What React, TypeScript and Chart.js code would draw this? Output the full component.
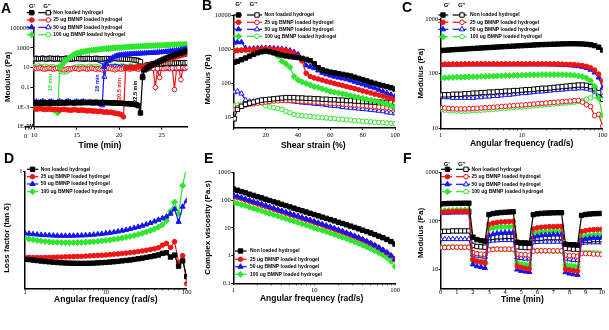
import React, { useEffect, useRef } from 'react';
import { Chart, registerables } from 'chart.js';

Chart.register(...registerables);

const W = 609;
const H = 330;

const GROUPS = ['Non loaded hydrogel', '25 ug BMNP loaded hydrogel', '50 ug BMNP loaded hydrogel', '100 ug BMNP loaded hydrogel'];
const COLORS = ['#000000', '#f01414', '#1414f0', '#2ee62e'];

// ---------- Panel A : time sweep ----------
const timeA = [10, 10.25, 10.5, 10.75, 11, 11.25, 11.5, 11.75, 12, 12.25, 12.5, 12.75, 13, 13.25, 13.5, 13.75, 14, 14.25, 14.5, 14.75, 15, 15.25, 15.5, 15.75, 16, 16.25, 16.5, 16.75, 17, 17.25, 17.5, 17.75, 18, 18.25, 18.5, 18.75, 19, 19.25, 19.5, 19.75, 20, 20.25, 20.5, 20.75, 21, 21.25, 21.5, 21.75, 22, 22.25, 22.5, 22.75, 23, 23.25, 23.5, 23.75, 24, 24.25, 24.5, 24.75, 25, 25.25, 25.5, 25.75, 26, 26.25, 26.5, 26.75, 27, 27.25, 27.5, 27.75, 28];
const aNonGp = [0.0026, 0.0025, 0.0027, 0.0026, 0.0025, 0.0026, 0.0027, 0.0026, 0.0025, 0.0026, 0.0027, 0.0026, 0.0025, 0.0026, 0.0027, 0.0026, 0.0027, 0.0028, 0.0027, 0.0026, 0.0027, 0.0028, 0.0027, 0.0028, 0.0029, 0.0028, 0.0029, 0.0028, 0.0029, 0.003, 0.0029, 0.0028, 0.0029, 0.0028, 0.0028, 0.0027, 0.0027, 0.0026, 0.0026, 0.0025, 0.0024, 0.0024, 0.0023, 0.0022, 0.0022, 0.0021, 0.002, 0.0019, 0.0017, 0.0014, 0.00025, 1.2, 6, 9, 12, 16, 21, 27, 35, 45, 57, 72, 90, 110, 135, 160, 190, 225, 265, 310, 365, 430, 500];
const aNonGpp = [80, 85, 78, 82, 88, 80, 76, 84, 90, 82, 78, 85, 80, 76, 82, 88, 84, 80, 78, 85, 90, 84, 80, 78, 82, 86, 80, 76, 82, 88, 84, 80, 76, 82, 85, 80, 78, 84, 88, 82, 78, 80, 76, 74, 72, 70, 66, 62, 58, 52, 40, 1.0, 12, 18, 20, 22, 24, 22, 25, 26, 24, 27, 28, 26, 28, 30, 28, 30, 31, 29, 32, 30, 32];
const a25Gp = [0.0007, 0.0006, 0.00065, 0.0007, 0.0006, 0.00055, 0.0006, 0.00065, 0.0006, 0.00055, 0.0006, 0.00055, 0.0005, 0.00055, 0.0006, 0.00055, 0.0005, 0.00048, 0.0005, 0.00055, 0.0005, 0.00045, 0.0005, 0.00048, 0.00045, 0.0004, 0.00045, 0.0004, 0.00038, 0.0004, 0.00035, 0.00038, 0.00033, 0.0003, 0.00032, 0.00028, 0.0003, 0.00026, 0.00024, 0.00022, 0.0002, 0.00016, 0.0001, 9, 10, 10, 11, 10, 11, 12, 12, 13, 14, 15, 17, 19, 22, 26, 31, 37, 44, 52, 61, 71, 83, 97, 113, 131, 150, 172, 196, 222, 250];
const a25Gpp = [9, 8, 9, 10, 8, 7, 8, 9, 8, 7, 8, 9, 8, 7, 6, 7, 8, 7, 8, 9, 8, 7, 8, 9, 8, 7, 8, 9, 8, 7, 8, 7, 6, 7, 8, 9, 8, 7, 6, 7, 8, 7, 8, 9, 8, 7, 8, 9, 8, 7, 8, 9, 8, 7, 8, 9, 8, 0.1, 8, 1, 9, 8, 9, 10, 8, 9, 0.06, 9, 10, 0.6, 10, 9, 11];
const a50Gp = [0.003, 0.0035, 0.0028, 0.0032, 0.0038, 0.003, 0.0026, 0.0033, 0.0036, 0.0029, 0.0025, 0.0032, 0.0037, 0.003, 0.0027, 0.0034, 0.0038, 0.0031, 0.0026, 0.0033, 0.0036, 0.0029, 0.0032, 0.0037, 0.003, 0.0026, 0.0033, 0.0028, 0.0022, 0.0027, 0.0024, 0.002, 0.0015, 12, 25, 50, 80, 110, 140, 165, 185, 200, 210, 220, 230, 238, 245, 252, 260, 267, 275, 282, 290, 298, 306, 315, 325, 336, 348, 362, 378, 396, 416, 440, 466, 495, 528, 565, 605, 650, 700, 755, 815];
const a50Gpp = [75, 85, 70, 80, 90, 72, 78, 88, 74, 68, 80, 86, 72, 66, 76, 84, 70, 64, 74, 82, 70, 76, 86, 72, 66, 78, 84, 70, 64, 72, 60, 50, 40, 1.2, 8, 10, 12, 11, 13, 12, 10, 11, 12, 10, 9, 11, 10, 9, 10, 11, 9, 8, 9, 10, 8, 9, 10, 8, 7, 9, 8, 7, 9, 8, 7, 8, 9, 7, 8, 9, 7, 8, 9];
const a100Gp = [0.0009, 0.00085, 0.0008, 0.0008, 0.00075, 0.0007, 0.0007, 0.00065, 0.0006, 0.00055, 0.00045, 0.00025, 12, 20, 35, 55, 85, 120, 170, 230, 290, 335, 385, 420, 470, 500, 545, 580, 625, 660, 700, 745, 775, 820, 865, 900, 935, 985, 1020, 1055, 1100, 1140, 1175, 1225, 1260, 1300, 1345, 1380, 1415, 1460, 1500, 1545, 1580, 1615, 1665, 1700, 1735, 1780, 1825, 1860, 1900, 1945, 1975, 2020, 2065, 2100, 2135, 2185, 2220, 2255, 2300, 2345, 2380];
const a100Gpp = [14, 12, 15, 13, 11, 14, 12, 10, 13, 12, 10, 9, 6, 4, 3.5, 4, 5, 7, 9, 10, 12, 11, 13, 12, 10, 12, 14, 12, 11, 13, 12, 10, 12, 14, 13, 11, 12, 14, 13, 11, 13, 15, 14, 12, 13, 15, 14, 12, 14, 16, 15, 13, 15, 16, 14, 15, 17, 16, 14, 16, 18, 17, 15, 17, 18, 16, 18, 19, 17, 18, 20, 19, 20];
const gelNotes = [
  { text: '13 min', x: 50, y: 82.5, color: '#2ee62e' },
  { text: '18 min', x: 97, y: 83, color: '#1414f0' },
  { text: '20.5 min', x: 119, y: 89, color: '#f01414' },
  { text: '22.5 min', x: 135, y: 91.7, color: '#000000' },
];

// ---------- Panel B : strain sweep ----------
const strainB = [0.5, 2.5, 5, 7.5, 10, 12.5, 15, 17.5, 20, 22.5, 25, 27.5, 30, 32.5, 35, 37.5, 40, 42.5, 45, 47.5, 50, 52.5, 55, 57.5, 60, 62.5, 65, 67.5, 70, 72.5, 75, 77.5, 80, 82.5, 85, 87.5, 90, 92.5, 95, 97.5, 100];
const bNonGp = [420, 450, 500, 560, 640, 720, 800, 860, 900, 860, 800, 740, 690, 650, 620, 600, 580, 550, 510, 470, 380, 290, 250, 230, 215, 205, 195, 185, 175, 165, 152, 140, 128, 118, 108, 100, 92, 86, 80, 74, 68];
const b25Gp = [900, 930, 950, 970, 990, 1010, 1030, 1050, 1050, 1040, 1020, 1000, 990, 930, 850, 760, 620, 460, 200, 160, 145, 135, 125, 116, 108, 100, 93, 87, 81, 75, 70, 65, 60, 56, 52, 48, 45, 42, 39, 36, 33];
const b50Gp = [1600, 1650, 1650, 1100, 1050, 1080, 1100, 1120, 1120, 1110, 1090, 1060, 1030, 990, 930, 850, 720, 500, 340, 310, 280, 240, 205, 185, 170, 158, 148, 140, 132, 122, 112, 102, 94, 86, 79, 72, 65, 58, 52, 46, 41];
const b100Gp = [950, 960, 970, 975, 980, 985, 990, 985, 930, 870, 780, 650, 450, 380, 300, 160, 125, 110, 100, 90, 80, 75, 69, 63, 58, 55, 52, 49, 46, 43, 40, 38, 36, 34, 32, 30, 28, 26, 24, 22, 20];
const bNonGpp = [9, 17, 21, 24, 26, 28, 30, 32, 33, 34, 35, 36, 37, 38, 38, 38, 37, 37, 36, 36, 35, 35, 34, 34, 33, 33, 32, 32, 31, 31, 30, 30, 29, 29, 28.5, 28, 28, 27.5, 27.5, 27, 27];
const b25Gpp = [17, 19, 21, 23, 24, 25, 26, 27, 28, 29, 30, 30.5, 31, 31, 31, 31, 30, 29.5, 29, 28.5, 28, 27.5, 27, 26.5, 26, 25.5, 25, 24.5, 24, 23.5, 23, 22.5, 22, 21.5, 21, 20.5, 20, 19.5, 19, 18.5, 18];
const b50Gpp = [55, 58, 50, 32, 29, 29, 30, 31, 31, 31, 31, 31, 31, 30.5, 30, 29, 28, 27, 26.5, 26, 25, 24.5, 24, 23, 22, 21.5, 21, 20, 19.5, 19, 18.5, 18, 17.5, 17, 16.5, 16, 15.5, 15, 14, 13.5, 13];
const b100Gpp = [22, 23, 24, 25, 26, 27, 28, 27, 22, 20, 19, 18, 17, 15, 13.5, 12, 11.5, 11, 10.8, 10.5, 10.2, 10, 9.7, 9.5, 9.2, 9, 8.8, 8.6, 8.4, 8.2, 8, 7.8, 7.6, 7.4, 7.3, 7.1, 7, 6.9, 6.7, 6.6, 6.5];

// ---------- Panels C, D, E : frequency sweep ----------
const freq = [1, 1.122, 1.259, 1.413, 1.585, 1.778, 1.995, 2.239, 2.512, 2.818, 3.162, 3.548, 3.981, 4.467, 5.012, 5.623, 6.31, 7.079, 7.943, 8.913, 10, 11.22, 12.59, 14.13, 15.85, 17.78, 19.95, 22.39, 25.12, 28.18, 31.62, 35.48, 39.81, 44.67, 50.12, 56.23, 63.1, 70.79, 79.43, 89.13, 100];
const cNonGp = [265, 268, 271, 274, 277, 280, 283, 286, 289, 292, 295, 298, 301, 304, 307, 310, 313, 316, 319, 322, 325, 328, 331, 334, 337, 340, 342, 344, 346, 348, 350, 351, 352, 352, 351, 349, 345, 338, 326, 305, 270];
const c25Gp = [148, 148, 148, 149, 149, 149, 150, 150, 150, 150, 151, 150, 150, 151, 150, 150, 151, 150, 150, 151, 150, 150, 151, 150, 150, 151, 150, 150, 150, 150, 149, 148, 147, 146, 144, 141, 136, 128, 116, 98, 72];
const c50Gp = [146, 146, 146, 147, 147, 147, 148, 148, 148, 148, 148, 148, 148, 148, 148, 148, 148, 148, 148, 148, 148, 148, 148, 148, 148, 148, 148, 147, 147, 146, 145, 144, 142, 140, 137, 133, 127, 118, 105, 85, 55];
const c100Gp = [84, 84, 85, 85, 86, 86, 87, 87, 88, 88, 89, 89, 90, 90, 91, 91, 92, 92, 93, 93, 94, 94, 95, 95, 95, 96, 96, 96, 96, 96, 96, 95, 94, 93, 91, 88, 83, 74, 58, 36, 17];
const cNonGpp = [41, 41, 41, 42, 42, 42, 43, 43, 44, 44, 45, 45, 46, 46, 47, 47, 48, 48, 49, 49, 50, 51, 51, 52, 53, 54, 54, 55, 56, 57, 58, 59, 60, 61, 62, 62, 61, 58, 53, 45, 34];
const c25Gpp = [24, 23.5, 23, 22.8, 22.6, 22.6, 22.6, 22.8, 23, 23.2, 23.5, 23.8, 24, 24.3, 24.6, 25, 25.3, 25.7, 26, 26.3, 26.6, 27, 27.4, 27.8, 28.2, 28.6, 29, 29.4, 29.8, 30.2, 30.6, 31, 31.5, 32, 32.5, 30, 27, 25, 17, 18, 11];
const c50Gpp = [38, 37, 37, 36, 36, 36, 36, 36, 36, 37, 37, 38, 38, 39, 39, 40, 41, 41, 42, 43, 44, 44, 45, 46, 47, 47, 48, 49, 50, 50, 51, 52, 53, 53, 54, 54, 53, 51, 47, 42, 38];
const c100Gpp = [22, 21.5, 21, 20.8, 20.6, 20.6, 20.6, 20.8, 21, 21.2, 21.4, 21.7, 22, 22.3, 22.6, 23, 23.3, 23.7, 24, 24.3, 24.6, 25, 25.4, 25.8, 26.2, 26.6, 27, 27.4, 27.8, 28.2, 28.6, 29, 29.5, 30, 31, 32, 34, 36, 39, 41, 34];

const dNon = [0.249, 0.246, 0.242, 0.238, 0.234, 0.23, 0.227, 0.224, 0.221, 0.219, 0.217, 0.216, 0.215, 0.214, 0.214, 0.214, 0.215, 0.216, 0.218, 0.22, 0.222, 0.225, 0.228, 0.231, 0.235, 0.239, 0.243, 0.248, 0.253, 0.259, 0.265, 0.271, 0.278, 0.286, 0.3, 0.305, 0.268, 0.285, 0.19, 0.235, 0.1];
const d25 = [0.266, 0.265, 0.264, 0.264, 0.264, 0.264, 0.265, 0.266, 0.267, 0.268, 0.27, 0.271, 0.272, 0.273, 0.274, 0.276, 0.278, 0.28, 0.282, 0.284, 0.286, 0.289, 0.292, 0.295, 0.298, 0.302, 0.306, 0.31, 0.315, 0.32, 0.326, 0.332, 0.339, 0.348, 0.37, 0.385, 0.35, 0.4, 0.22, 0.28, 0.04];
const d50 = [0.472, 0.468, 0.464, 0.461, 0.458, 0.456, 0.454, 0.452, 0.451, 0.45, 0.45, 0.45, 0.451, 0.452, 0.453, 0.455, 0.457, 0.46, 0.463, 0.467, 0.471, 0.476, 0.481, 0.487, 0.494, 0.501, 0.509, 0.518, 0.527, 0.537, 0.548, 0.56, 0.573, 0.587, 0.6, 0.615, 0.64, 0.68, 0.57, 0.7, 0.75];
const d100 = [0.429, 0.423, 0.417, 0.411, 0.406, 0.402, 0.399, 0.396, 0.394, 0.392, 0.391, 0.391, 0.391, 0.392, 0.393, 0.395, 0.397, 0.4, 0.403, 0.407, 0.411, 0.415, 0.42, 0.425, 0.431, 0.438, 0.445, 0.453, 0.462, 0.472, 0.483, 0.495, 0.508, 0.525, 0.545, 0.58, 0.66, 0.74, 0.64, 0.88, 1.05];

const eNon = [250, 225, 202, 182, 163, 147, 132, 119, 107, 96, 86, 78, 70, 63, 56.5, 51, 45.5, 41, 37, 33.3, 30, 27, 24.3, 21.9, 19.7, 17.7, 15.9, 14.3, 12.8, 11.5, 10.3, 9.2, 8.2, 7.3, 6.5, 5.7, 5.0, 4.4, 3.8, 3.2, 2.6];
const e25 = [140, 125.5, 112.5, 101, 90.5, 81, 72.5, 65, 58.3, 52.3, 46.9, 42, 37.7, 33.8, 30.3, 27.2, 24.4, 21.9, 19.6, 17.6, 15.8, 14.1, 12.6, 11.2, 10, 8.9, 7.9, 7, 6.2, 5.45, 4.8, 4.2, 3.65, 3.15, 2.7, 2.28, 1.9, 1.56, 1.25, 0.97, 0.7];
const e50 = [152, 136, 122, 109, 98, 88, 79, 71, 63.5, 57, 51, 45.7, 41, 36.7, 32.9, 29.5, 26.4, 23.7, 21.2, 19, 17, 15.2, 13.6, 12.1, 10.8, 9.6, 8.5, 7.5, 6.6, 5.8, 5.1, 4.45, 3.85, 3.3, 2.8, 2.35, 1.95, 1.6, 1.3, 1.0, 0.75];
const e100 = [85, 76.4, 68.7, 61.8, 55.5, 49.9, 44.9, 40.3, 36.3, 32.6, 29.3, 26.4, 23.7, 21.3, 19.2, 17.2, 15.5, 13.9, 12.5, 11.2, 10, 9, 8.05, 7.2, 6.45, 5.75, 5.1, 4.55, 4.02, 3.55, 3.12, 2.73, 2.37, 2.05, 1.76, 1.5, 1.26, 1.04, 0.84, 0.62, 0.4];

// ---------- Panel F : recovery (step strain) ----------
const timeF = [0, 0.25, 0.5, 0.75, 1, 1.25, 1.5, 1.75, 2, 2.25, 2.5, 2.75, 3, 3.25, 3.5, 3.75, 4, 4.25, 4.5, 4.75, 5, 5.25, 5.5, 5.75, 6, 6.25, 6.5, 6.75, 7, 7.25, 7.5, 7.75, 8, 8.25, 8.5, 8.75, 9, 9.25, 9.5, 9.75, 10];
const fNonGp = [225, 228, 230, 231, 232, 232, 233, 233, 46, 41, 39, 38, 135, 142, 146, 149, 151, 153, 155, 36, 35, 35, 34.5, 135, 140, 143, 145, 146, 147, 148, 148, 33, 32, 32, 31.5, 130, 136, 139, 141, 142, 143];
const f25Gp = [150, 153, 155, 156, 157, 157, 158, 158, 16, 14.5, 14, 13.5, 85, 90, 93, 95, 96, 97, 98, 11.5, 10.8, 10.4, 10.2, 68, 72, 74, 75, 76, 76, 77, 77, 10, 9.6, 9.3, 9.1, 60, 63, 65, 66, 66.5, 67];
const f50Gp = [145, 147, 148, 149, 149, 150, 150, 150, 12.5, 11.5, 11, 10.5, 50, 53, 55, 56, 57, 57, 58, 9.8, 9.2, 8.9, 8.7, 46, 48, 50, 51, 51, 52, 52, 52, 8.6, 8.1, 7.8, 7.6, 40, 42, 43, 44, 44, 44.5];
const f100Gp = [160, 163, 165, 166, 167, 168, 168, 168, 15, 14, 13.5, 13, 68, 72, 74, 75, 76, 76, 77, 13, 12.5, 12.2, 12, 55, 57, 59, 60, 60, 61, 61, 61, 12, 11.5, 11.2, 11, 47, 49, 50, 51, 51.5, 52];
const fNonGpp = [60, 61, 61, 62, 62, 62, 62, 62, 31, 29.5, 29, 28.5, 45, 46, 47, 47, 48, 48, 48, 29, 28.5, 28, 28, 43, 44, 44, 45, 45, 45, 45, 45, 27, 26.5, 26, 26, 39, 40, 40, 41, 41, 41];
const f25Gpp = [28, 28, 28, 28.5, 28.5, 28.5, 28.5, 28.5, 22, 21, 20.5, 20, 25, 25.5, 26, 26, 26, 26, 26, 20.5, 20, 20, 19.5, 23.5, 24, 24, 24, 24, 24, 24, 24, 19.5, 19, 19, 18.5, 21, 21, 21, 20.5, 20.5, 20];
const f50Gpp = [42, 42, 42, 42, 42, 42, 42, 42, 20, 19, 18.5, 18, 38, 39, 39.5, 40, 40, 40, 40, 17.5, 17, 16.5, 16.5, 36, 36.5, 37, 37, 37, 37, 37, 37, 16.5, 16, 15.5, 15.5, 35, 35.5, 36, 36, 36, 36];
const f100Gpp = [29, 29, 29, 29, 28.5, 28.5, 28.5, 28.5, 16, 15, 14.5, 14.5, 26, 26, 26, 25.5, 25.5, 25.5, 25.5, 14.5, 14, 14, 13.5, 24.5, 24, 24, 24, 24, 23.5, 23.5, 23.5, 14, 13.5, 13.5, 13, 22.5, 22, 22, 22, 21.5, 21.5];

// ---------- tick lists ----------
const ticksAx = [10, 15, 20, 25];
const ticksAy = [1e-5, 1e-3, 0.1, 10, 1000, 100000];
const ticksBx = [0, 20, 40, 60, 80, 100];
const ticksBy = [10, 100, 1000, 10000];
const ticksLogFreq = [1, 2, 3, 4, 5, 6, 7, 8, 9, 10, 20, 30, 40, 50, 60, 70, 80, 90, 100];
const ticksCy = [10, 100, 1000];
const ticksDy = [1];
const ticksEy = [0.1, 1, 10, 100, 1000];
const ticksFx = [0, 1, 2, 3, 4, 5, 6, 7, 8, 9, 10];
const ticksFy = [10, 100, 1000];

// ---------- styling ----------
const SERIF = "'Liberation Serif', 'Times New Roman', serif";
const SANS = "'Liberation Sans', Arial, sans-serif";
const XTITLE_FONT = `bold 8.5px ${SANS}`;
const YTITLE_FONT = `bold 8px ${SANS}`;
const LEGEND_FONT = `bold 5px ${SANS}`;
const HEADER_FONT = `bold 6px ${SANS}`;
const LETTER_FONT = `bold 14px ${SANS}`;
const NOTE_FONT = `bold 5.5px ${SANS}`;
const TICK_SIZE = 6.5;

type Shape = 'rect' | 'circle' | 'triangle' | 'rectRot';
const SHAPES_FILLED: Shape[] = ['rect', 'circle', 'triangle', 'rectRot'];
const SHAPES_OPEN: Shape[] = ['rect', 'circle', 'triangle', 'circle'];
const RADIUS: Record<string, number> = { rect: 3.1, circle: 2.3, triangle: 3, rectRot: 3 };

const decade = (v: number) => {
  const k = Math.log10(v);
  return Math.abs(k - Math.round(k)) < 1e-6 ? String(Number(v.toPrecision(6))) : '';
};
const labelA = (v: number) => {
  const k = Math.round(Math.log10(v));
  const m: Record<string, string> = { '5': '100000', '3': '1000', '1': '10', '-1': '0.1', '-3': '1E-3', '-5': '1E-5' };
  return m[String(k)] ?? '';
};
const plain = (v: number) => String(v);
const noZero = (v: number) => (v === 0 ? '' : String(v));

function drawMarker(ctx: any, shape: Shape, x: number, y: number, r: number, color: string, open: boolean) {
  ctx.beginPath();
  if (shape === 'rect') {
    const s = Math.SQRT1_2 * r;
    ctx.rect(x - s, y - s, 2 * s, 2 * s);
  } else if (shape === 'circle') {
    ctx.arc(x, y, r, 0, Math.PI * 2);
  } else if (shape === 'triangle') {
    ctx.moveTo(x, y - r);
    ctx.lineTo(x + 0.866 * r, y + 0.5 * r);
    ctx.lineTo(x - 0.866 * r, y + 0.5 * r);
    ctx.closePath();
  } else {
    ctx.moveTo(x - r, y);
    ctx.lineTo(x, y - r);
    ctx.lineTo(x + r, y);
    ctx.lineTo(x, y + r);
    ctx.closePath();
  }
  ctx.fillStyle = open ? '#ffffff' : color;
  ctx.fill();
  ctx.strokeStyle = color;
  ctx.lineWidth = 1;
  ctx.stroke();
}

function modulusSeries(gp: number[][], gpp: number[][] | null) {
  const out: any[] = [];
  gp.forEach((v, i) => out.push({ values: v, color: COLORS[i], shape: SHAPES_FILLED[i], open: false }));
  if (gpp) gpp.forEach((v, i) => out.push({ values: v, color: COLORS[i], shape: SHAPES_OPEN[i], open: true }));
  return out;
}

const PANELS: any[] = [
  {
    area: [33.4, 28.3, 187.2, 126.7],
    xs: timeA,
    x: { type: 'linear', min: 9.9, max: 28, ticks: ticksAx, label: plain, tickLen: 3, pad: 2 },
    y: { type: 'logarithmic', min: 1e-5, max: 1e5, ticks: ticksAy, label: labelA, tickLen: 3, pad: 1 },
    series: modulusSeries([aNonGp, a25Gp, a50Gp, a100Gp], [aNonGpp, a25Gpp, a50Gpp, a100Gpp]),
    letter: { text: 'A', x: 1, y: 13 },
    xTitle: { text: 'Time (min)', x: 100, y: 146 },
    yTitle: { text: 'Modulus (Pa)', x: 8, y: 77 },
    legend: { header: { y: 6, g1: 32, g2: 47 }, rows: [12.7, 20, 27.3, 34.7], fl: [26.7, 35], fm: 31.7, ol: [38.3, 51.7], om: 48.3, tx: 53.3 },
    notes: gelNotes,
    breakMark: true,
  },
  {
    area: [233.4, 15.7, 395, 128],
    xs: strainB,
    x: { type: 'linear', min: 0, max: 100, ticks: ticksBx, label: noZero, tickLen: 2, pad: 1 },
    y: { type: 'logarithmic', min: 4.8, max: 10000, ticks: ticksBy, label: decade, tickLen: 2, pad: 0.5 },
    series: modulusSeries([bNonGp, b25Gp, b50Gp, b100Gp], [bNonGpp, b25Gpp, b50Gpp, b100Gpp]),
    letter: { text: 'B', x: 202, y: 10 },
    xTitle: { text: 'Shear strain (%)', x: 313.3, y: 146 },
    yTitle: { text: 'Modulus (Pa)', x: 208, y: 79.5 },
    legend: { header: { y: 4, g1: 238.3, g2: 253.3 }, rows: [15, 22.3, 29.3, 36.3], fl: [233, 242], fm: 238.5, ol: [247, 262], om: 257, tx: 264.5 },
  },
  {
    area: [440.7, 19, 602.7, 128.3],
    xs: freq,
    x: { type: 'logarithmic', min: 1, max: 100, ticks: ticksLogFreq, label: decade, tickLen: 2, pad: 1 },
    y: { type: 'logarithmic', min: 10, max: 1000, ticks: ticksCy, label: decade, tickLen: 2, pad: 0.5 },
    series: modulusSeries([cNonGp, c25Gp, c50Gp, c100Gp], [cNonGpp, c25Gpp, c50Gpp, c100Gpp]),
    letter: { text: 'C', x: 402, y: 12 },
    xTitle: { text: 'Angular frequency (rad/s)', x: 521.7, y: 144 },
    yTitle: { text: 'Modulus (Pa)', x: 421, y: 73.5 },
    legend: { header: { y: 5, g1: 446.7, g2: 461.7 }, rows: [15, 22.3, 29.3, 36.7], fl: [438.3, 448.3], fm: 443, ol: [452.7, 466.7], om: 462, tx: 470 },
  },
  {
    area: [25, 171.7, 186.7, 288.3],
    xs: freq,
    x: { type: 'logarithmic', min: 1, max: 100, ticks: ticksLogFreq, label: decade, tickLen: 2, pad: -2 },
    y: { type: 'linear', min: 0, max: 1, ticks: ticksDy, label: plain, tickLen: 2, pad: 0.5 },
    series: modulusSeries([dNon, d25, d50, d100], null),
    letter: { text: 'D', x: 4, y: 163 },
    xTitle: { text: 'Angular frequency (rad/s)', x: 105.8, y: 299.8 },
    yTitle: { text: 'Loss factor (tan δ)', x: 6.7, y: 238 },
    legend: { rows: [169.3, 176.7, 184, 191.7], fl: [27, 38.3], fm: 32.5, tx: 40.7 },
  },
  {
    area: [233.3, 172.3, 395, 283.3],
    xs: freq,
    x: { type: 'logarithmic', min: 1, max: 100, ticks: ticksLogFreq, label: decade, tickLen: 2, pad: 1 },
    y: { type: 'logarithmic', min: 0.1, max: 1000, ticks: ticksEy, label: decade, tickLen: 2, pad: 0.5 },
    series: modulusSeries([eNon, e25, e50, e100], null),
    orderOverride: [0, 2, 1, 3],
    letter: { text: 'E', x: 204, y: 163 },
    xTitle: { text: 'Angular frequency (rad/s)', x: 311.7, y: 298.3 },
    yTitle: { text: 'Complex viscosity (Pa.s)', x: 208, y: 227.5 },
    legend: { rows: [251, 259.3, 266.7, 274.3], fl: [235, 246.7], fm: 240.5, tx: 250 },
  },
  {
    area: [440.7, 172.7, 601.7, 288.3],
    xs: timeF,
    x: { type: 'linear', min: 0, max: 10, ticks: ticksFx, label: plain, tickLen: 2, pad: -2 },
    y: { type: 'logarithmic', min: 4, max: 1000, ticks: ticksFy, label: decade, tickLen: 2, pad: 0.5 },
    series: modulusSeries([fNonGp, f25Gp, f50Gp, f100Gp], [fNonGpp, f25Gpp, f50Gpp, f100Gpp]),
    letter: { text: 'F', x: 403, y: 163 },
    xTitle: { text: 'Time (min)', x: 522.3, y: 300 },
    yTitle: { text: 'Modulus (Pa)', x: 420.5, y: 233 },
    legend: { header: { y: 164, g1: 446.7, g2: 461.7 }, rows: [169.3, 176.7, 184.3, 191.7], fl: [441, 452], fm: 447.5, ol: [456, 470], om: 466, tx: 471.5 },
  },
];

function axisOptions(a: any, pos: 'bottom' | 'left', size: number) {
  return {
    type: a.type,
    position: pos,
    min: a.min,
    max: a.max,
    afterBuildTicks: (s: any) => {
      s.ticks = a.ticks.map((v: number) => ({ value: v }));
    },
    afterFit: (s: any) => {
      if (pos === 'left') s.width = size;
      else s.height = size;
    },
    ticks: {
      callback: (v: any) => a.label(Number(v)),
      font: { family: SERIF, size: TICK_SIZE },
      color: '#000',
      padding: a.pad,
      autoSkip: false,
      maxRotation: 0,
      minRotation: 0,
    },
    grid: { display: true, drawOnChartArea: false, drawTicks: true, tickLength: a.tickLen, color: '#000', lineWidth: 1 },
    border: { display: true, color: '#000', width: 1.5 },
  };
}

function drawText(ctx: any, text: string, x: number, y: number, font: string, color = '#000', rot = false, align = 'center') {
  ctx.save();
  ctx.font = font;
  ctx.fillStyle = color;
  ctx.textAlign = align;
  ctx.textBaseline = 'middle';
  ctx.translate(x, y);
  if (rot) ctx.rotate(-Math.PI / 2);
  ctx.fillText(text, 0, 0);
  ctx.restore();
}

function decoPlugin(p: any) {
  return {
    id: 'deco',
    afterDraw(chart: any) {
      const ctx = chart.ctx;
      ctx.save();
      ctx.font = LETTER_FONT;
      ctx.fillStyle = '#000';
      ctx.textAlign = 'left';
      ctx.textBaseline = 'alphabetic';
      ctx.fillText(p.letter.text, p.letter.x, p.letter.y);
      drawText(ctx, p.xTitle.text, p.xTitle.x, p.xTitle.y, XTITLE_FONT);
      drawText(ctx, p.yTitle.text, p.yTitle.x, p.yTitle.y, YTITLE_FONT, '#000', true);
      const lg = p.legend;
      if (lg.header) {
        drawText(ctx, "G'", lg.header.g1, lg.header.y, HEADER_FONT);
        drawText(ctx, "G''", lg.header.g2, lg.header.y, HEADER_FONT);
      }
      lg.rows.forEach((y: number, i: number) => {
        const col = COLORS[i];
        ctx.strokeStyle = col;
        ctx.lineWidth = 1.2;
        ctx.beginPath();
        ctx.moveTo(lg.fl[0], y);
        ctx.lineTo(lg.fl[1], y);
        ctx.stroke();
        drawMarker(ctx, SHAPES_FILLED[i], lg.fm, y, RADIUS[SHAPES_FILLED[i]], col, false);
        if (lg.ol) {
          ctx.strokeStyle = col;
          ctx.lineWidth = 1.2;
          ctx.beginPath();
          ctx.moveTo(lg.ol[0], y);
          ctx.lineTo(lg.ol[1], y);
          ctx.stroke();
          drawMarker(ctx, SHAPES_OPEN[i], lg.om, y, RADIUS[SHAPES_OPEN[i]], col, true);
        }
        drawText(ctx, GROUPS[i], lg.tx, y, LEGEND_FONT, '#000', false, 'left');
      });
      if (p.notes) {
        p.notes.forEach((n: any) => drawText(ctx, n.text, n.x, n.y, NOTE_FONT, n.color, true));
      }
      if (p.breakMark) {
        const yb = p.area[3];
        ctx.strokeStyle = '#000';
        ctx.lineWidth = 1.5;
        ctx.beginPath();
        ctx.moveTo(24.5, yb);
        ctx.lineTo(29.5, yb);
        ctx.stroke();
        ctx.lineWidth = 1;
        ctx.beginPath();
        ctx.moveTo(25.5, yb);
        ctx.lineTo(25.5, yb + 3);
        ctx.moveTo(28.6, yb + 2.8);
        ctx.lineTo(30.6, yb - 2.8);
        ctx.moveTo(30.8, yb + 2.8);
        ctx.lineTo(32.8, yb - 2.8);
        ctx.stroke();
        ctx.font = `${TICK_SIZE}px ${SERIF}`;
        ctx.fillStyle = '#000';
        ctx.textAlign = 'center';
        ctx.textBaseline = 'middle';
        ctx.fillText('0', 25.5, 136);
      }
      ctx.restore();
    },
  };
}

function buildConfig(p: any) {
  const [L, T, R, B] = p.area;
  const datasets = p.series.map((s: any, i: number) => ({
    data: p.xs.map((x: number, k: number) => ({ x, y: s.values[k] })),
    borderColor: s.color,
    borderWidth: 1.2,
    pointStyle: s.shape,
    pointRadius: RADIUS[s.shape],
    pointBackgroundColor: s.open ? '#ffffff' : s.color,
    pointBorderColor: s.color,
    pointBorderWidth: 1,
    fill: false,
    tension: 0,
    order: p.orderOverride ? p.orderOverride[i] : i,
  }));
  return {
    type: 'line',
    data: { datasets },
    options: {
      animation: false,
      responsive: false,
      devicePixelRatio: 1,
      events: [],
      layout: { padding: { left: 0, top: T, right: W - R, bottom: 0 } },
      plugins: { legend: { display: false }, tooltip: { enabled: false }, title: { display: false } },
      scales: {
        x: axisOptions(p.x, 'bottom', H - B),
        y: axisOptions(p.y, 'left', L),
      },
    },
    plugins: [decoPlugin(p)],
  };
}

function PanelChart({ p }: { p: any }) {
  const ref = useRef<HTMLCanvasElement>(null);
  useEffect(() => {
    const chart = new Chart(ref.current as any, buildConfig(p) as any);
    return () => chart.destroy();
  }, []);
  return <canvas ref={ref} width={W} height={H} style={{ position: 'absolute', left: 0, top: 0, width: W, height: H }} />;
}

export default function App() {
  return (
    <div style={{ position: 'fixed', left: 0, top: 0, width: W, height: H, background: '#ffffff', overflow: 'hidden' }}>
      {PANELS.map((p, i) => (
        <PanelChart key={i} p={p} />
      ))}
    </div>
  );
}
